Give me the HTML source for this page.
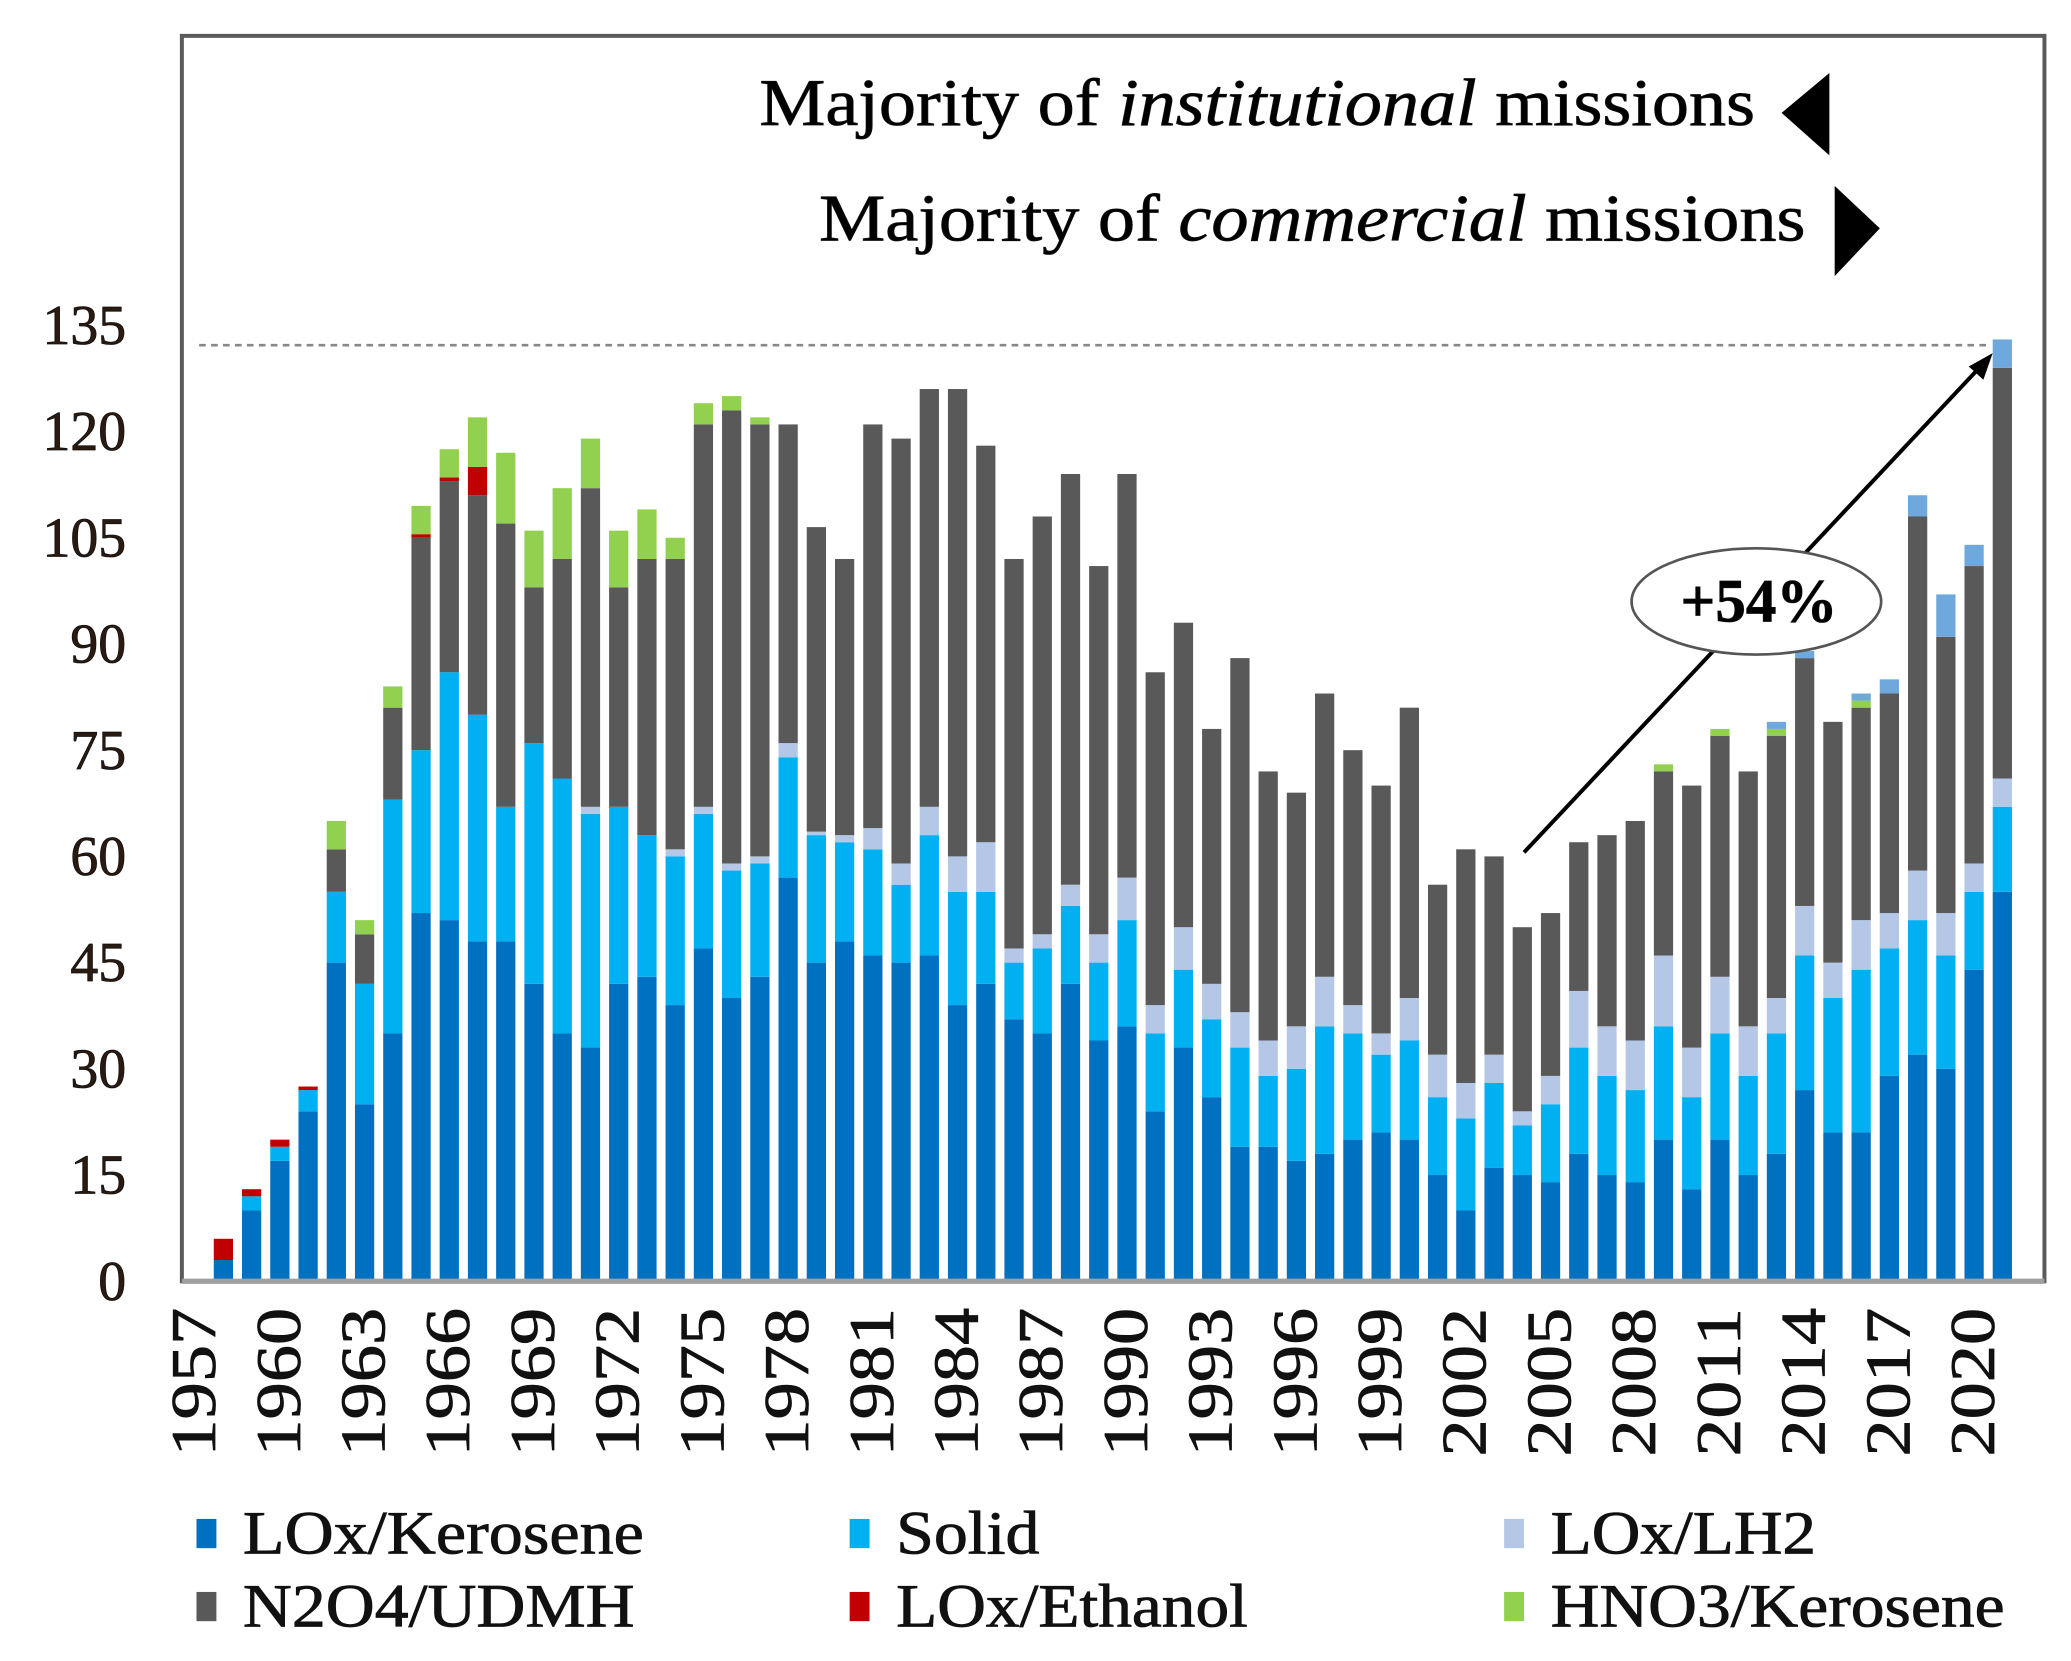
<!DOCTYPE html>
<html><head><meta charset="utf-8"><style>
html,body{margin:0;padding:0;background:#fff;}
svg{display:block;}
text{font-family:"Liberation Serif",serif;stroke:#111;stroke-width:0.6;}
</style></head><body>
<svg id="chart" width="2071" height="1661" viewBox="0 0 1560 1251" preserveAspectRatio="none" xmlns="http://www.w3.org/2000/svg">
<rect x="0" y="0" width="1560" height="1251" fill="#fff"/>
<g id="bars"></g>
<g id="axes"></g>
<rect x="137" y="27" width="1403" height="938" fill="none" stroke="#5a5a5a" stroke-width="3"/>
<line x1="137" y1="965" x2="1540" y2="965" stroke="#a0a0a0" stroke-width="4"/>
<line x1="150" y1="260" x2="1500" y2="260" stroke="#888" stroke-width="2" stroke-dasharray="5,4"/>
<text x="572" y="94" font-size="50" textLength="750" lengthAdjust="spacingAndGlyphs">Majority of <tspan font-style="italic">institutional</tspan> missions</text>
<polygon points="1342,85 1378,55 1378,117" fill="#000"/>
<text x="617" y="181" font-size="50" textLength="743" lengthAdjust="spacingAndGlyphs">Majority of <tspan font-style="italic">commercial</tspan> missions</text>
<polygon points="1416,172 1382,140 1382,208" fill="#000"/>
<line x1="1148" y1="642" x2="1490" y2="278" stroke="#000" stroke-width="3"/>
<polygon points="1501,266 1483,276 1494,286" fill="#000"/>
<ellipse cx="1323" cy="453" rx="94" ry="40" fill="#fff" stroke="#555" stroke-width="2"/>
<text x="1325" y="468" font-size="46" font-weight="bold" text-anchor="middle">+54%</text>
<g id="legend"></g>
</svg>
<script>
const years = [];
for (let y = 1957; y <= 2021; y++) years.push(y);
const kerosene = [0,3,10,17,24,45,25,35,52,51,48,48,42,35,33,42,43,39,47,40,43,57,45,48,46,45,46,39,42,37,35,42,34,36,24,33,26,19,19,17,18,20,21,20,15,10,16,15,14,18,15,14,20,13,20,15,18,27,21,21,29,32,30,44,55];
const solid = [0,0,2,2,3,10,17,33,23,35,32,19,34,36,33,25,20,21,19,18,16,17,18,14,15,11,17,16,13,8,12,11,11,15,11,11,11,14,10,13,18,15,11,14,11,13,12,7,11,15,14,13,16,13,15,14,17,19,19,23,18,19,16,11,12];
const lh2 = [0,0,0,0,0,0,0,0,0,0,0,0,0,0,1,0,0,1,1,1,1,2,0.5,1,3,3,4,5,7,2,2,3,4,6,4,6,5,5,5,6,7,4,3,6,6,5,4,2,4,8,7,7,10,7,8,7,5,7,5,7,5,7,6,4,4];
const udmh = [0,0,0,0,0,6,7,13,30,27,31,40,22,31,45,31,39,41,54,64,61,45,43,39,57,60,59,66,56,55,59,58,52,57,47,43,36,50,38,33,40,36,35,41,24,33,28,26,23,21,27,31,26,37,34,36,37,35,34,30,31,50,39,42,58];
const ethanol = [0,3,1,1,0.5,0,0,0,0.5,0.5,4,0,0,0,0,0,0,0,0,0,0,0,0,0,0,0,0,0,0,0,0,0,0,0,0,0,0,0,0,0,0,0,0,0,0,0,0,0,0,0,0,0,0,0,0,0,0,0,0,0,0,0,0,0,0];
const hno3 = [0,0,0,0,0,4,2,3,4,4,7,10,8,10,7,8,7,3,3,2,1,0,0,0,0,0,0,0,0,0,0,0,0,0,0,0,0,0,0,0,0,0,0,0,0,0,0,0,0,0,0,0,1,0,1,0,1,0,0,1,0,0,0,0,0];
const other = [0,0,0,0,0,0,0,0,0,0,0,0,0,0,0,0,0,0,0,0,0,0,0,0,0,0,0,0,0,0,0,0,0,0,0,0,0,0,0,0,0,0,0,0,0,0,0,0,0,0,0,0,0,0,0,0,1,1,0,1,2,3,6,3,4];
const yTicks = [0,15,30,45,60,75,90,105,120,135];
const xTickYears = [1957,1960,1963,1966,1969,1972,1975,1978,1981,1984,1987,1990,1993,1996,1999,2002,2005,2008,2011,2014,2017,2020];
const seriesNames = ["LOx/Kerosene","Solid","LOx/LH2","N2O4/UDMH","LOx/Ethanol","HNO3/Kerosene","Other"];
const seriesColors = ["#0070c0","#00b0f0","#b4c7e7","#595959","#c00000","#92d050","#6fa8dc"];
const seriesData = [kerosene, solid, lh2, udmh, ethanol, hno3, other];

const NS = "http://www.w3.org/2000/svg";
function yScale(v){ return 965 - v*80/15; }
function xScale(year){ return 147 + (year-1957)*21.27; }
const barW = 14.5;

const barsG = document.getElementById('bars');
years.forEach((yr,i)=>{
  let acc = 0;
  seriesData.forEach((arr,s)=>{
    const v = arr[i];
    if(!v) return;
    const r = document.createElementNS(NS,'rect');
    
    
    r.setAttribute('x', xScale(yr)-barW/2);
    r.setAttribute('y', yScale(acc+v));
    r.setAttribute('width', barW);
    r.setAttribute('height', yScale(acc)-yScale(acc+v));
    r.setAttribute('fill', seriesColors[s]);
    barsG.appendChild(r);
    acc += v;
  });
});

const axesG = document.getElementById('axes');
yTicks.forEach(t=>{
  const tx = document.createElementNS(NS,'text');
  
  
  tx.setAttribute('x', 95);
  tx.setAttribute('y', yScale(t)+14);
  tx.setAttribute('text-anchor','end');
  tx.setAttribute('font-size','42');
  tx.setAttribute('fill','#2a1a10');
  tx.setAttribute('stroke','#2a1a10');
  tx.textContent = t;
  axesG.appendChild(tx);
});
xTickYears.forEach(yr=>{
  const tx = document.createElementNS(NS,'text');
  
  
  const cx = xScale(yr)+15, cy = 985;
  tx.setAttribute('x', cx);
  tx.setAttribute('y', cy);
  tx.setAttribute('text-anchor','end');
  tx.setAttribute('font-size','48');
  tx.setAttribute('textLength','112');
  tx.setAttribute('lengthAdjust','spacingAndGlyphs');
  tx.setAttribute('fill','#111');
  tx.setAttribute('transform','rotate(-90 '+cx+' '+cy+')');
  tx.textContent = yr;
  axesG.appendChild(tx);
});

const legendG = document.getElementById('legend');
const legendPos = [[148,1170],[640,1170],[1133,1170],[148,1225],[640,1225],[1133,1225]];
const legendLen = [302,108,200,295,265,342];
legendPos.forEach((p,i)=>{
  const sq = document.createElementNS(NS,'rect');
  
  
  sq.setAttribute('x', p[0]); sq.setAttribute('y', p[1]-26);
  sq.setAttribute('width', 15); sq.setAttribute('height', 22);
  sq.setAttribute('fill', seriesColors[i]);
  legendG.appendChild(sq);
  const tx = document.createElementNS(NS,'text');
  
  
  tx.setAttribute('x', p[0]+35); tx.setAttribute('y', p[1]);
  tx.setAttribute('font-size','46');
  tx.setAttribute('textLength', legendLen[i]);
  tx.setAttribute('lengthAdjust','spacingAndGlyphs');
  tx.setAttribute('fill','#111');
  tx.textContent = seriesNames[i];
  legendG.appendChild(tx);
});
</script>
</body></html>
